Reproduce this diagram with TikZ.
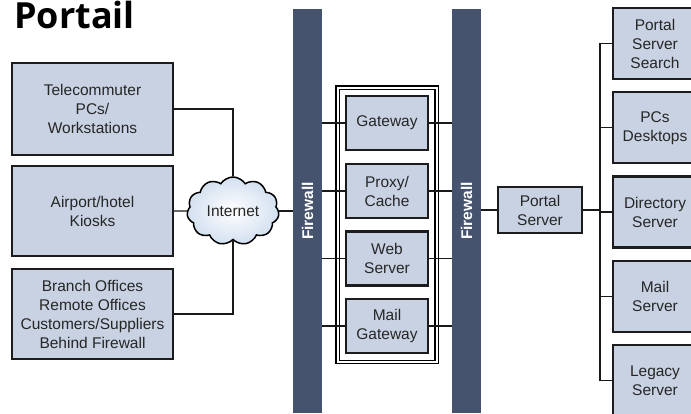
\documentclass[tikz,border=0pt]{standalone}
\usepackage{fontspec}
\setmainfont{Liberation Sans}
\newfontfamily\titlefont{Open Sans}
\usetikzlibrary{shapes.symbols}
\definecolor{boxfill}{HTML}{C8D2E2}
\definecolor{boxline}{HTML}{1C1C1C}
\definecolor{fwblue}{HTML}{46536F}
\definecolor{cloudedge}{HTML}{D3E0F0}
\tikzset{
  unit/.style={draw=boxline, fill=boxfill, line width=2.3pt, align=center,
    inner sep=0pt, text=black!85,
    font=\fontsize{15.5}{19}\selectfont},
  firewallbar/.style={fill=fwblue, draw=none, minimum width=29pt,
    minimum height=404pt, inner sep=0pt,
    label={[rotate=90, text=white, font=\fontsize{15.5}{18}\selectfont\bfseries]center:Firewall}},
  wire/.style={draw=black!90, line width=1.4pt},
}
\begin{document}
\begin{tikzpicture}[x=1pt, y=-1pt]
  \fill[white] (0,0) rectangle (691,413);
  \clip (0,0) rectangle (691,413);

  % heading
  \node[anchor=base west, inner sep=0pt, font=\titlefont\bfseries\fontsize{36}{40}\selectfont] (title) at (14,28) {Portail};

  % remote clients
  \node[unit, minimum width=161pt, minimum height=92pt] (tc) at (92.5,109) {Telecommuter\\PCs/\\Workstations};
  \node[unit, minimum width=161pt, minimum height=90pt] (ak) at (92.5,211) {Airport/hotel\\Kiosks};
  \node[unit, minimum width=161pt, minimum height=90pt] (bo) at (92.5,314) {Branch Offices\\Remote Offices\\Customers/Suppliers\\Behind Firewall};

  % internet cloud
  \node[cloud, cloud puffs=11, cloud puff arc=115, aspect=1.35,
        minimum width=92pt, minimum height=68pt, inner sep=0pt,
        draw=black, line width=1.5pt, inner color=white, outer color=cloudedge,
        font=\fontsize{15.5}{19}\selectfont, text=black!85] (inet) at (233,211) {Internet};

  % firewalls
  \node[firewallbar] (fw1) at (307.5,211) {};
  \node[firewallbar] (fw2) at (466.5,211) {};

  % DMZ enclosure
  \draw[line width=1.1pt, double=white, double distance=2pt] (337.5,87.5) rectangle (436.5,362);
  \node[unit, minimum width=82pt, minimum height=54pt] (gw) at (387,123) {Gateway};
  \node[unit, minimum width=82pt, minimum height=54pt] (pc) at (387,191) {Proxy/\\Cache};
  \node[unit, minimum width=82pt, minimum height=54pt] (ws) at (387,258.5) {Web\\Server};
  \node[unit, minimum width=82pt, minimum height=54pt] (mg) at (387,326) {Mail\\Gateway};

  % internal network
  \node[unit, minimum width=84pt, minimum height=46pt] (ps) at (540,210) {Portal\\Server};
  \node[unit, minimum width=84pt, minimum height=71pt] (r1) at (655,43.5) {Portal\\Server\\Search};
  \node[unit, minimum width=84pt, minimum height=71pt] (r2) at (655,127.75) {PCs\\Desktops};
  \node[unit, minimum width=84pt, minimum height=71pt] (r3) at (655,212) {Directory\\Server};
  \node[unit, minimum width=84pt, minimum height=71pt] (r4) at (655,296.25) {Mail\\Server};
  \node[unit, minimum width=84pt, minimum height=71pt] (r5) at (655,380.5) {Legacy\\Server};
  \coordinate (bus) at (600,210);

  % links to the internet
  \draw[wire] (tc.east) -| (inet.north);
  \draw[wire] (ak.east) -- (inet.west);
  \draw[wire] (bo.east) -| (inet.south);
  \draw[wire] (inet.east) -- (fw1.west |- inet.east);

  % links through the DMZ
  \foreach \n in {gw,pc,ws,mg}{
    \draw[wire] (fw1.east |- \n.west) -- (\n.west);
    \draw[wire] (\n.east) -- (fw2.west |- \n.east);
  }

  % internal bus
  \draw[wire] (fw2.east |- ps.west) -- (ps.west);
  \draw[wire] (ps.east) -- (bus);
  \draw[wire] (r1.west) -- (r1.west -| bus) -- (r5.west -| bus) -- (r5.west);
  \foreach \n in {r2,r3,r4}{
    \draw[wire] (\n.west) -- (\n.west -| bus);
  }
\end{tikzpicture}
\end{document}
